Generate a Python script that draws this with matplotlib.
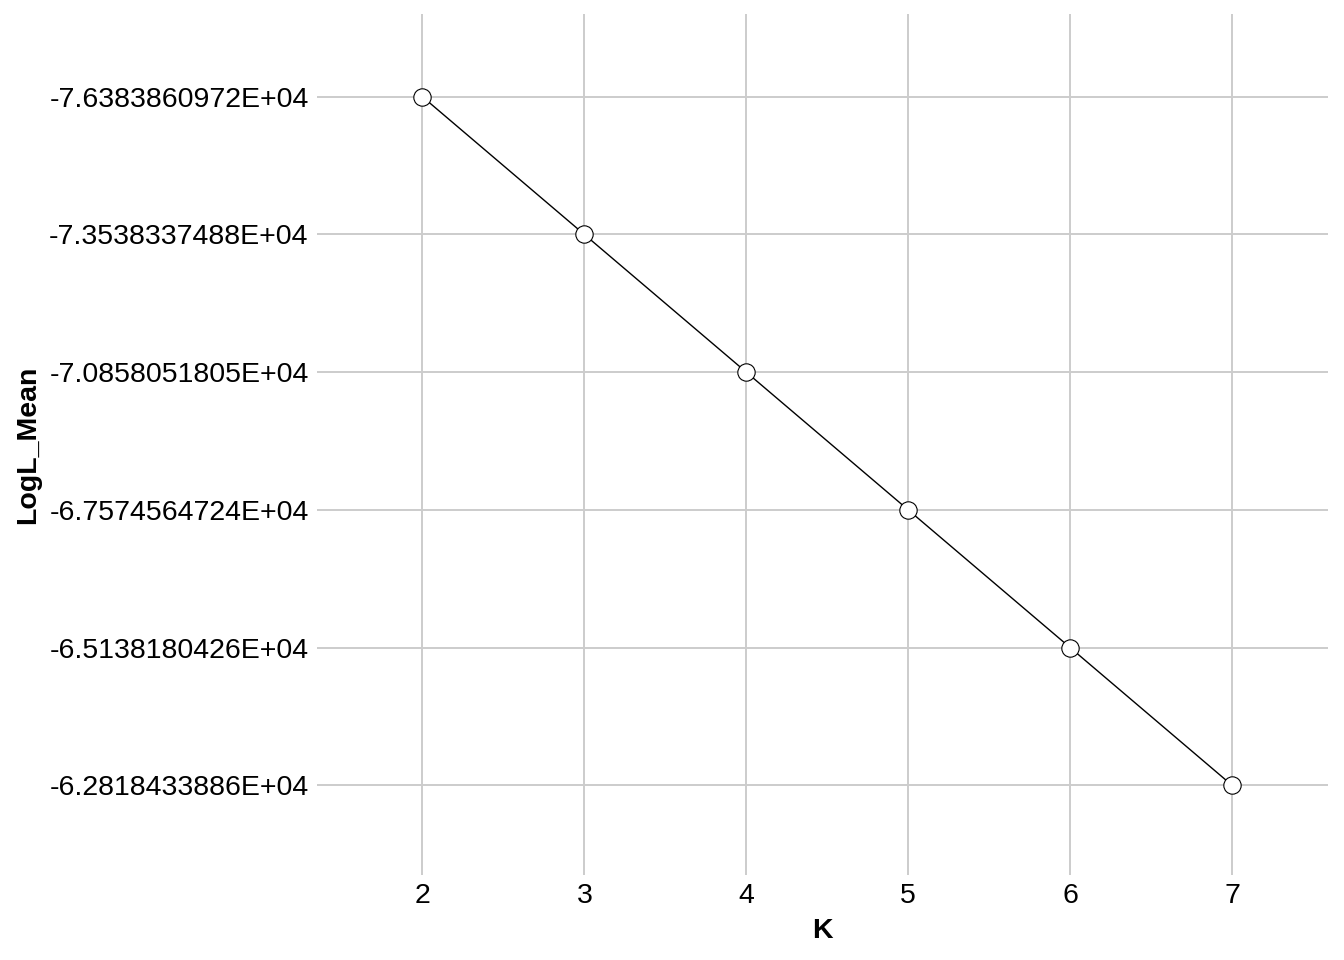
import matplotlib
matplotlib.use("Agg")
import matplotlib.pyplot as plt

plt.rcParams['font.family'] = ['Liberation Sans', 'DejaVu Sans']

k_values = [2, 3, 4, 5, 6, 7]
logl_labels = ['-7.6383860972E+04', '-7.3538337488E+04', '-7.0858051805E+04',
               '-6.7574564724E+04', '-6.5138180426E+04', '-6.2818433886E+04']

# y is treated as a discrete axis (one level per label)
y_pos = list(range(len(logl_labels)))

fig = plt.figure(figsize=(13.44, 9.6), dpi=100)
ax = fig.add_axes([0.2359, 0.0885, 0.988 - 0.2359, 0.9854 - 0.0885])

ax.plot(k_values, y_pos, color='black', linewidth=1.0, zorder=3)
ax.plot(k_values, y_pos, 'o', markersize=12.5, markerfacecolor='white',
        markeredgecolor='black', markeredgewidth=0.8, zorder=4)

ax.set_xlim(1.35, 7.59)
ax.set_ylim(5.65, -0.6)
ax.set_xticks(k_values)
ax.set_xticklabels([str(k) for k in k_values])
ax.set_yticks(y_pos)
ax.set_yticklabels(logl_labels)

ax.grid(True, color='#cccccc', linewidth=1.4)
ax.set_axisbelow(True)
for s in ax.spines.values():
    s.set_visible(False)
ax.tick_params(length=0, labelsize=20.5, colors='black', pad=6)

ax.set_xlabel('K', fontsize=20.5, fontweight='bold', labelpad=6)
ax.set_ylabel('LogL_Mean', fontsize=20.5, fontweight='bold', labelpad=6)

fig.savefig('out.png', dpi=100)
